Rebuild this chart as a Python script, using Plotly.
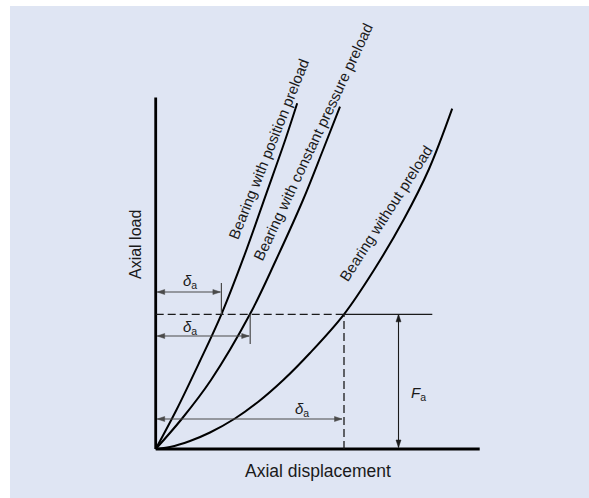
import math
import plotly.graph_objects as go

# Data (arbitrary units, origin at the axes corner)
disp_position = [0, 2.07, 4.32, 6.57, 8.82, 11.07, 12.95, 14.15]
load_position = [0, 3.9, 8.57, 13.47, 19.23, 25.57, 30.9, 34.57]

disp_constant = [0, 2.6, 5.53, 9.42, 12.03, 14.73, 16.73, 18.43]
load_constant = [0, 3.0, 6.9, 13.47, 18.9, 24.9, 29.9, 34.23]

disp_none = [0, 1.43, 3.43, 5.43, 7.93, 10.23, 12.76, 15.43, 18.83, 21.83, 24.83, 27.33, 29.65]
load_none = [0, 0.2, 0.8, 1.65, 3.05, 4.7, 6.9, 9.6, 13.47, 17.9, 23.0, 28.0, 34.03]

fa_load = 13.47
delta_position = 6.57
delta_constant = 9.45
delta_none = 18.83

labels = ["Bearing with position preload",
          "Bearing with constant pressure preload",
          "Bearing without preload"]

FONT = "Liberation Sans, Arial, sans-serif"
INK = "#1a1a1a"
GREY = "#4a4a4a"

fig = go.Figure()
for xs, ys in [(disp_position, load_position),
               (disp_constant, load_constant),
               (disp_none, load_none)]:
    fig.add_trace(go.Scatter(x=xs, y=ys, mode="lines",
                             line=dict(color="black", width=2, shape="spline", smoothing=1.0),
                             hoverinfo="skip", showlegend=False))

shapes = [
    # panel background
    dict(type="rect", xref="paper", yref="paper", x0=10 / 589, x1=1, y0=0, y1=1 - 6 / 498,
         fillcolor="#dfe5f3", line_width=0, layer="below"),
    # axes
    dict(type="line", x0=0, y0=0, x1=0, y1=35.15, line=dict(color="black", width=2.8)),
    dict(type="line", x0=0, y0=0, x1=32.4, y1=0, line=dict(color="black", width=2.8)),
    # load level
    dict(type="line", x0=0, y0=fa_load, x1=delta_none, y1=fa_load,
         line=dict(color=INK, width=1.3, dash="8px,4px")),
    dict(type="line", x0=delta_none, y0=fa_load, x1=27.66, y1=fa_load,
         line=dict(color=INK, width=1.3)),
    dict(type="line", x0=delta_none, y0=0, x1=delta_none, y1=fa_load,
         line=dict(color=INK, width=1.3, dash="8px,4px")),
    # delta ticks
    dict(type="line", x0=delta_position, y0=fa_load, x1=delta_position, y1=16.6,
         line=dict(color=GREY, width=1.2)),
    dict(type="line", x0=delta_constant, y0=fa_load, x1=delta_constant, y1=10.5,
         line=dict(color=GREY, width=1.2)),
]


def head(tx, ty, fx, fy, color, length=0.75, half=0.25):
    d = math.hypot(tx - fx, ty - fy)
    ux, uy = (tx - fx) / d, (ty - fy) / d
    bx, by = tx - length * ux, ty - length * uy
    c1 = (bx - half * uy, by + half * ux)
    c2 = (bx + half * uy, by - half * ux)
    return dict(type="path", path=f"M {tx},{ty} L {c1[0]},{c1[1]} L {c2[0]},{c2[1]} Z",
                fillcolor=color, line=dict(color=color, width=0.5))


def double_arrow(x0, y0, x1, y1, color):
    return [dict(type="line", x0=x0, y0=y0, x1=x1, y1=y1, line=dict(color=color, width=1.1)),
            head(x0, y0, x1, y1, color), head(x1, y1, x0, y0, color)]


shapes += double_arrow(0.15, 15.7, delta_position - 0.1, 15.7, GREY)
shapes += double_arrow(0.15, 11.3, delta_constant - 0.1, 11.3, GREY)
shapes += double_arrow(0.15, 3.0, delta_none - 0.2, 3.0, GREY)
shapes += double_arrow(24.28, 0.15, 24.28, fa_load, INK)

annotations = []
label_pos = [(11.23, 30.0, -68.3), (15.76, 30.73, -64.8), (23.0, 23.57, -57.2)]
for text, (x, y, ang) in zip(labels, label_pos):
    annotations.append(dict(x=x, y=y, text=text, textangle=ang, showarrow=False,
                            xanchor="center", yanchor="middle",
                            font=dict(family=FONT, size=15, color=INK)))

delta_txt = "<i>δ</i><sub>a</sub>"
for x, y in [(3.43, 16.8), (3.43, 12.15), (14.63, 4.0)]:
    annotations.append(dict(x=x, y=y, text=delta_txt, showarrow=False,
                            font=dict(family=FONT, size=15, color=INK)))
annotations.append(dict(x=26.23, y=5.6, text="<i>F</i><sub>a</sub>", showarrow=False,
                        font=dict(family=FONT, size=15, color=INK)))

annotations.append(dict(x=16.18, y=-2.17, text="Axial displacement", showarrow=False,
                        font=dict(family=FONT, size=17.5, color=INK)))
annotations.append(dict(x=-2.07, y=20.4, text="Axial load", textangle=-90, showarrow=False,
                        font=dict(family=FONT, size=16, color=INK)))

fig.update_layout(
    width=589, height=498,
    margin=dict(l=0, r=0, t=0, b=0),
    paper_bgcolor="white", plot_bgcolor="rgba(0,0,0,0)",
    shapes=shapes, annotations=annotations,
    xaxis=dict(range=[-15.57, 43.33], visible=False, fixedrange=True),
    yaxis=dict(range=[-4.9, 44.9], visible=False, fixedrange=True),
    showlegend=False,
)

fig.write_html("out.html", config={"displayModeBar": False, "staticPlot": True},
               post_script="document.body.style.margin='0';document.body.style.overflow='hidden';")
